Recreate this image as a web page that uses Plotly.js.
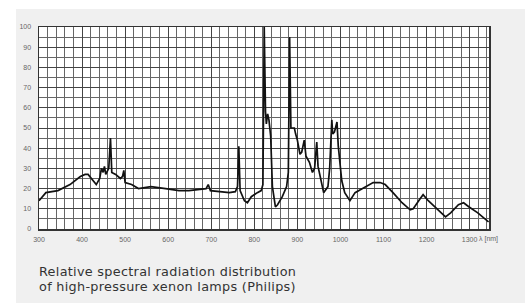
<!DOCTYPE html>
<html>
<head>
<meta charset="utf-8">
<script src="https://cdn.plot.ly/plotly-3.0.1.min.js"></script>
<style>
html,body{margin:0;padding:0;background:#ffffff;width:528px;height:303px;overflow:hidden;}
#chart{position:absolute;left:16px;top:9px;width:509px;height:294px;}
#caption{position:absolute;left:39px;top:264px;font-family:'DejaVu Sans',sans-serif;font-size:12.8px;letter-spacing:0.3px;line-height:15px;color:#333;white-space:nowrap;}
</style>
</head>
<body>
<div id="chart"></div>
<div id="caption"></div>
<script>
// wavelength in nm
const wavelength = [300,316,344,372,396,407,414,433,441,445,449,452,455,462,466,469,478,489,494,497,500,515,531,560,594,625,648,688,693,698,742,756,761,764,767,777,784,793,807,816,820,823,826,828,831,834,838,842,849,854,865,875,879,882,885,893,896,900,906,910,916,920,928,935,940,945,948,957,961,971,975,980,982,986,992,995,1003,1010,1022,1034,1052,1076,1092,1104,1122,1143,1162,1169,1185,1192,1204,1225,1244,1256,1274,1286,1298,1319,1333,1344];
// relative spectral radiation
const intensity = [14,18,19,22,26,27,27,22,25,30,28,31,27,30,45,28,27,25,26,29,23,22,20,21,20,19,19,20,22,19,18,18.5,21,41,19,14,13,16,18,19,22,100,58,52,57,54,46,21,11,12,16,21,28,95,50,50,47,44,37,38,44,36,33,28,30,43,31,21,18,21,30,54,47,48,53,41,24,18,14,18,20,23,23,22,18,13,9.5,10,15,17,14,10,6,8,12,13,11,8,5.5,3.5];
const xTickVals = [300,400,500,600,700,800,900,1000,1100,1200,1300];
const xTickText = ['300','400','500','600','700','800','900','1000','1100','1200','1300'];
const yTickVals = [0,10,20,30,40,50,60,70,80,90,100];
const captionLines = ['Relative spectral radiation distribution','of high-pressure xenon lamps (Philips)'];
const unitLabel = 'λ [nm]';

const cap = document.getElementById('caption');
captionLines.forEach(function(t){ const d = document.createElement('div'); d.textContent = t; cap.appendChild(d); });

const trace = {
  x: wavelength, y: intensity, type: 'scatter', mode: 'lines',
  line: {color: '#111', width: 1.7},
  hoverinfo: 'skip'
};

const layout = {
  width: 509, height: 294,
  margin: {l: 23, r: 36, t: 18, b: 74},
  paper_bgcolor: '#f0f0f0',
  plot_bgcolor: '#ffffff',
  showlegend: false,
  xaxis: {
    range: [300, 1345], tickvals: xTickVals, ticktext: xTickText,
    showgrid: true, gridcolor: '#444', gridwidth: 1,
    minor: {dtick: 20, showgrid: true, gridcolor: '#666', gridwidth: 1, ticks: ''},
    showline: true, linecolor: '#333', linewidth: 1.5, mirror: true,
    ticks: '', zeroline: false, ticklabelstandoff: 3,
    tickfont: {family: 'Liberation Sans, Arial, sans-serif', size: 7, color: '#666'}
  },
  yaxis: {
    range: [0, 100], tickvals: yTickVals,
    showgrid: true, gridcolor: '#444', gridwidth: 1,
    minor: {dtick: 5, showgrid: true, gridcolor: '#666', gridwidth: 1, ticks: ''},
    showline: true, linecolor: '#333', linewidth: 1.5, mirror: true,
    ticks: '', zeroline: false, ticklabelstandoff: 5,
    tickfont: {family: 'Liberation Sans, Arial, sans-serif', size: 7, color: '#666'}
  },
  annotations: [
    {text: unitLabel, xref: 'x', yref: 'paper', x: 1318, y: 0, xanchor: 'left', yanchor: 'top',
     yshift: -4, showarrow: false, font: {family: 'Liberation Sans, Arial, sans-serif', size: 7, color: '#666'}}
  ]
};

Plotly.newPlot('chart', [trace], layout, {displayModeBar: false, staticPlot: true});
</script>
</body>
</html>
